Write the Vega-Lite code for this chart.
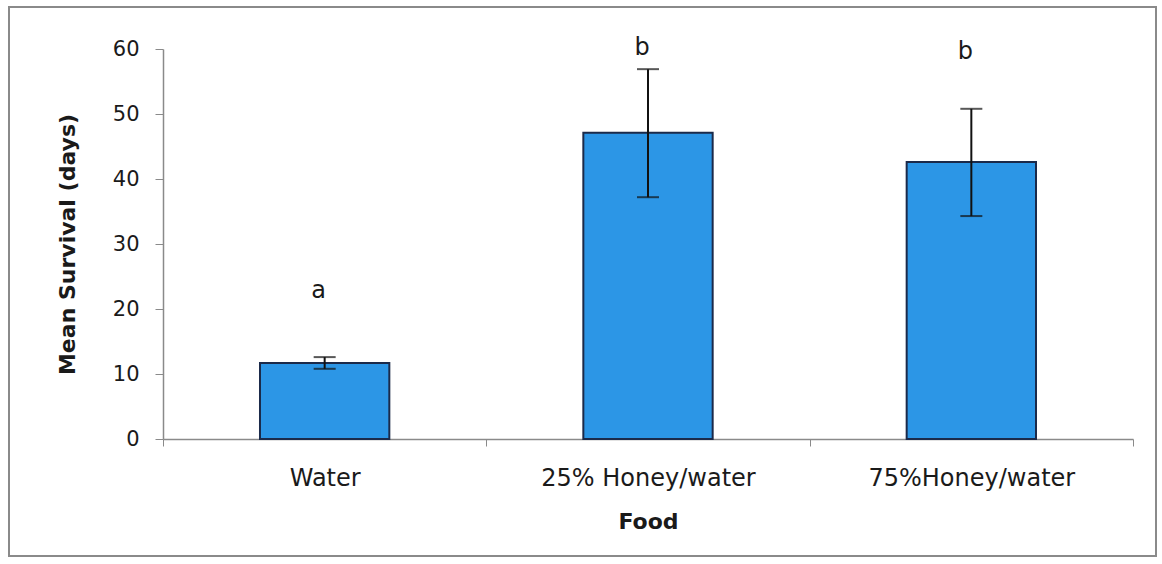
{
  "$schema": "https://vega.github.io/schema/vega-lite/v6.json",
  "width": 1147,
  "height": 549,
  "autosize": "none",
  "padding": {"left": 9, "top": 7, "right": 6, "bottom": 8},
  "background": "white",
  "config": {
    "view": {"stroke": "#8a8a8a", "strokeWidth": 2},
    "font": "DejaVu Sans"
  },
  "data": {
    "values": [
      {"food": "Water", "mean": 11.7, "lo": 10.8, "hi": 12.6, "letter": "a", "ly": 21.7},
      {"food": "25% Honey/water", "mean": 47.1, "lo": 37.2, "hi": 56.9, "letter": "b", "ly": 59.1},
      {"food": "75%Honey/water", "mean": 42.6, "lo": 34.3, "hi": 50.8, "letter": "b", "ly": 58.5}
    ]
  },
  "encoding": {
    "x": {
      "field": "food",
      "type": "nominal",
      "sort": null,
      "scale": {"range": [154, 1124], "paddingInner": 0, "paddingOuter": 0},
      "axis": {
        "orient": "bottom",
        "offset": -117,
        "title": "Food",
        "titleFontSize": 22,
        "titleFontWeight": "bold",
        "titleColor": "#1a1a1a",
        "titleX": 639,
        "titleY": 82,
        "titleAlign": "center",
        "titleBaseline": "middle",
        "labelAngle": 0,
        "labelFontSize": 24,
        "labelLimit": 0,
        "labelColor": "#1a1a1a",
        "labelBaseline": "middle",
        "labelPadding": 32,
        "ticks": true,
        "tickBand": "extent",
        "tickSize": 7,
        "tickColor": "#8a8a8a",
        "domainColor": "#8a8a8a",
        "domainWidth": 1.5,
        "grid": false
      }
    }
  },
  "layer": [
    {
      "mark": {"type": "bar", "width": {"band": 0.4}, "fill": "#2c96e6", "stroke": "#1b2a4a", "strokeWidth": 2},
      "encoding": {
        "y": {
          "field": "mean",
          "type": "quantitative",
          "title": "Mean Survival (days)",
          "scale": {"domain": [0, 60], "range": [432, 42], "nice": false},
          "axis": {
            "orient": "left",
            "offset": -154,
            "values": [0, 10, 20, 30, 40, 50, 60],
            "titleFontSize": 22,
            "titleFontWeight": "bold",
            "titleColor": "#1a1a1a",
            "titleX": -96,
            "titleY": 237,
            "titleAngle": -90,
            "titleAlign": "center",
            "titleBaseline": "middle",
            "labelFontSize": 21,
            "labelColor": "#1a1a1a",
            "labelPadding": 16,
            "tickSize": 8,
            "tickColor": "#8a8a8a",
            "domainColor": "#8a8a8a",
            "domainWidth": 1.5,
            "grid": false
          }
        }
      }
    },
    {
      "mark": {
        "type": "errorbar",
        "ticks": {"size": 22, "color": "#111111", "thickness": 2},
        "rule": {"strokeWidth": 2, "color": "#111111"}
      },
      "encoding": {
        "y": {"field": "lo", "type": "quantitative", "title": "Mean Survival (days)", "scale": {"domain": [0, 60], "range": [432, 42], "nice": false}},
        "y2": {"field": "hi"}
      }
    },
    {
      "mark": {"type": "text", "fontSize": 24, "baseline": "alphabetic", "dx": -6, "color": "#1a1a1a"},
      "encoding": {
        "y": {"field": "ly", "type": "quantitative", "title": "Mean Survival (days)", "scale": {"domain": [0, 60], "range": [432, 42], "nice": false}},
        "text": {"field": "letter"}
      }
    }
  ]
}
